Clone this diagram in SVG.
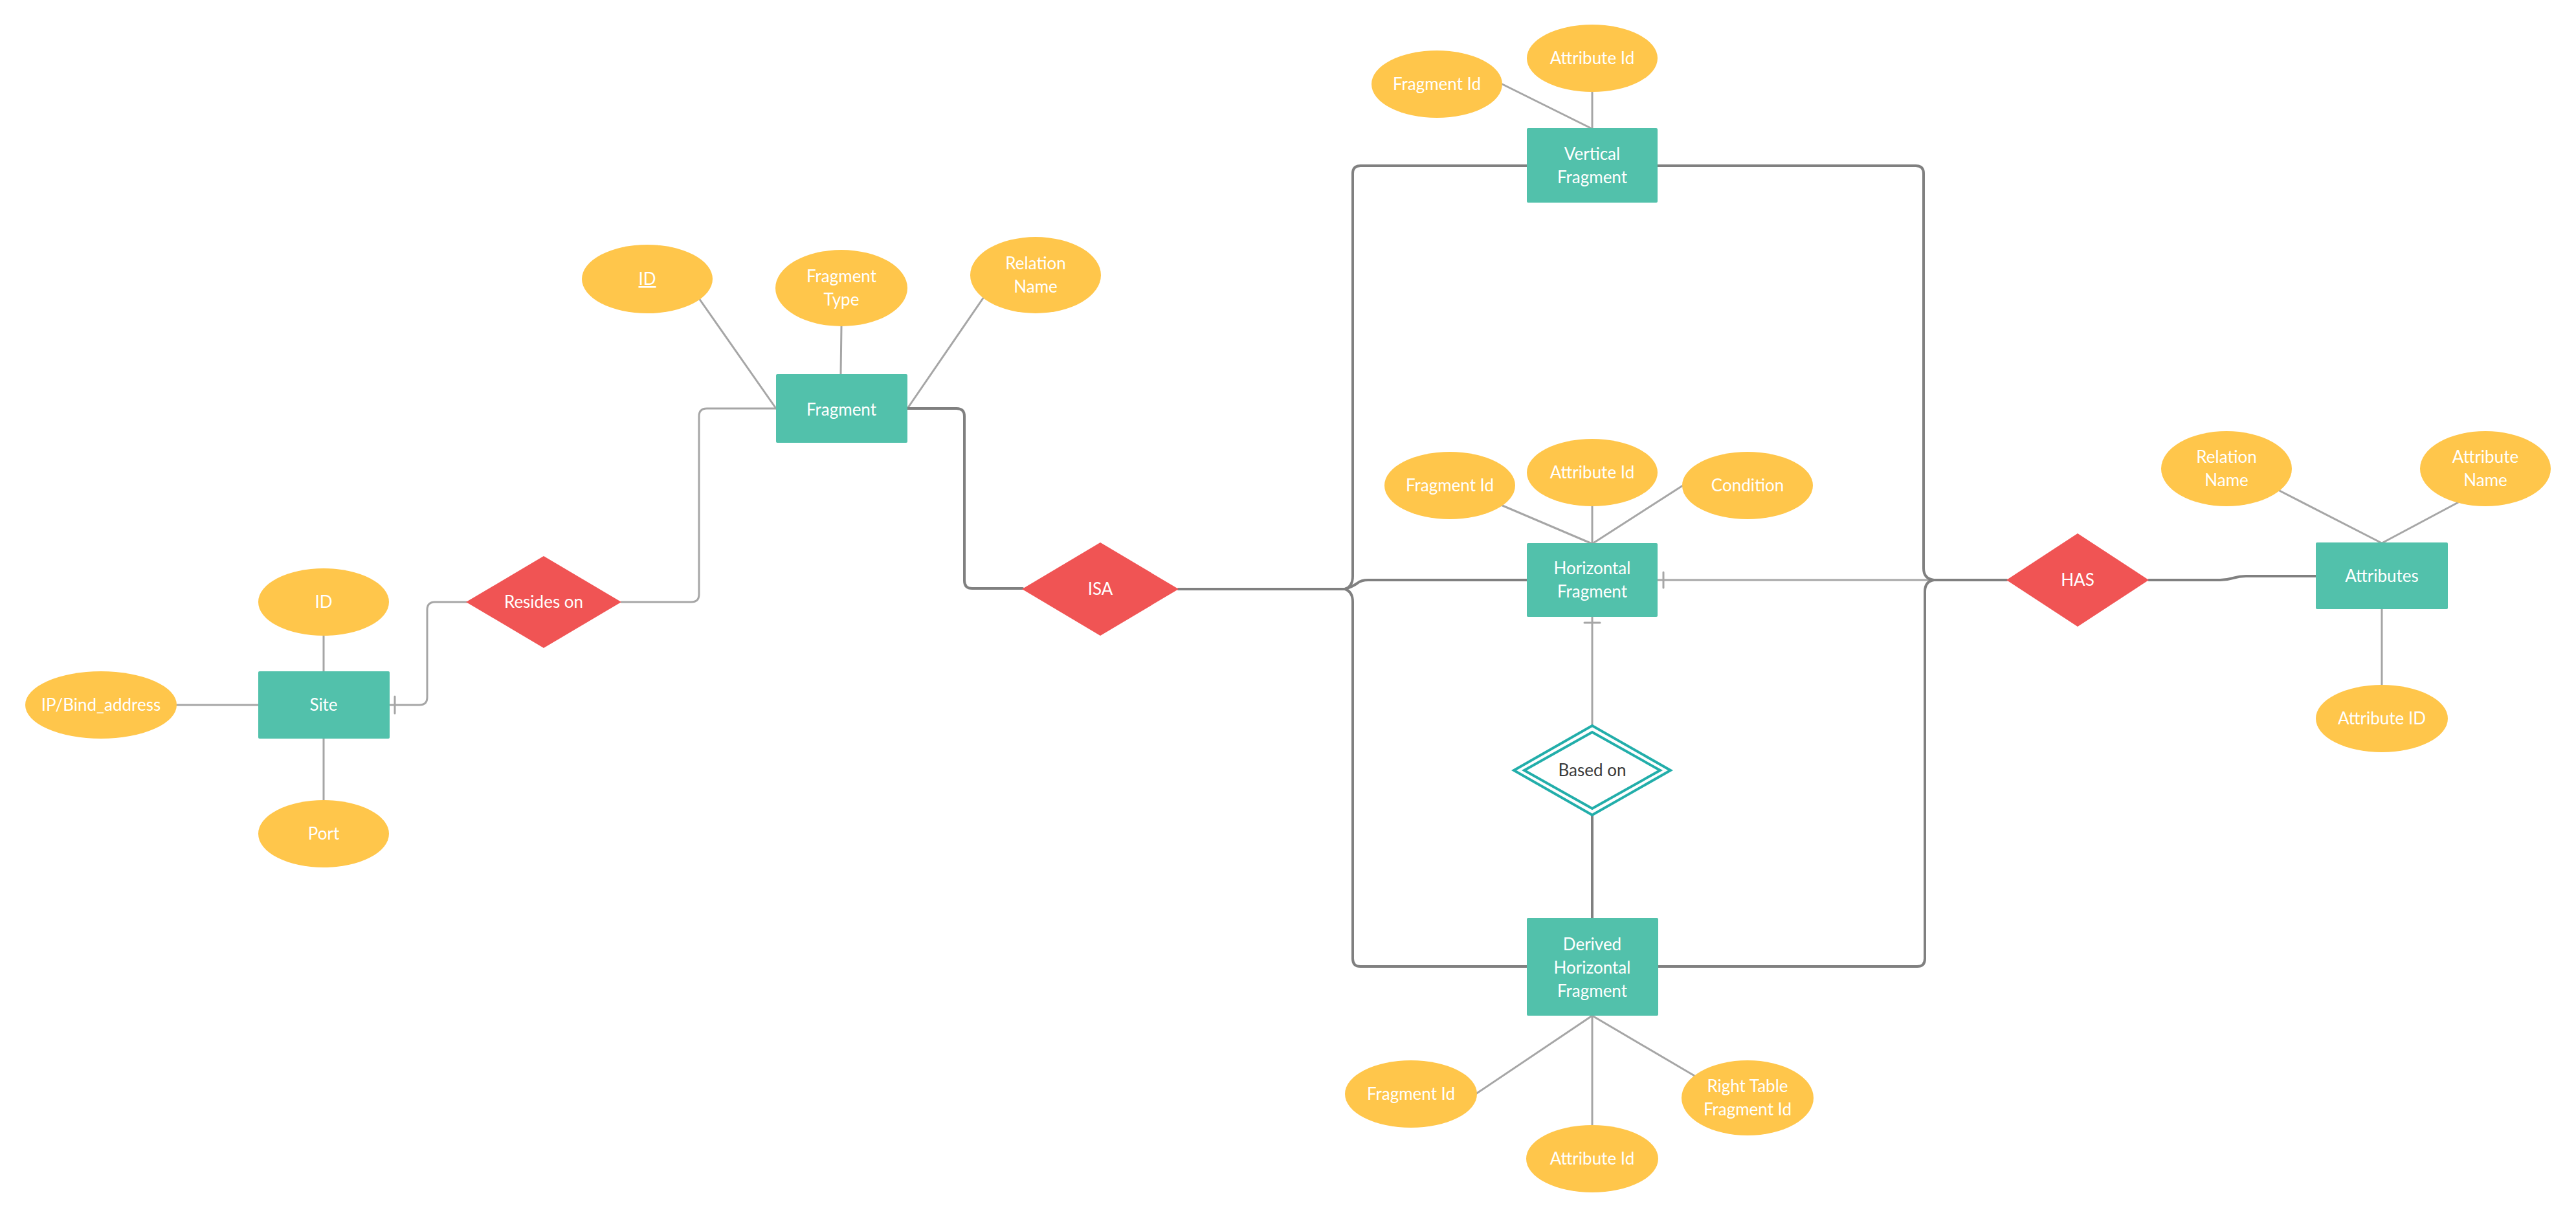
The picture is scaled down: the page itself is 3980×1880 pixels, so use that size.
<svg xmlns="http://www.w3.org/2000/svg" width="3980" height="1880" viewBox="0 0 3980 1880">
  <style>
    .ent { fill: #52c1ab; }
    .att { fill: #ffc64b; }
    .rel { fill: #f05454; }
    .weak { fill: #ffffff; stroke: #22aeaa; stroke-width: 4; }
    .lt { fill: none; stroke: #a6a6a6; stroke-width: 3; stroke-linecap: round; stroke-linejoin: round; }
    .dk { fill: none; stroke: #808080; stroke-width: 4; stroke-linecap: round; stroke-linejoin: round; }
    text { font-family: Lato, "Open Sans", "Liberation Sans", sans-serif; font-size: 26px; fill: #ffffff; text-anchor: middle; }
    text.dark { fill: #3a3a3a; }
  </style>

  <rect width="3980" height="1880" fill="#ffffff"/>

  <!-- connectors -->
  <g id="connectors">
    <!-- Site -->
    <path class="lt" d="M500 982 V1037"/>
    <path class="lt" d="M273 1089 H399"/>
    <path class="lt" d="M500 1141 V1236"/>
    <path class="lt" d="M601 1089 H648 Q660 1089 660 1077 V942 Q660 930 672 930 H721"/>
    <path class="lt" d="M610 1076 V1102"/>

    <!-- Fragment -->
    <path class="lt" d="M1080 461 L1199 631"/>
    <path class="lt" d="M1300 504 L1299 578"/>
    <path class="lt" d="M1520 459 L1402 631"/>
    <path class="lt" d="M960 930 H1068 Q1080 930 1080 918 V643 Q1080 631 1092 631 H1199"/>
    <path class="dk" d="M1402 631 H1478 Q1490 631 1490 643 V897 Q1490 909 1502 909 H1580"/>

    <!-- ISA bus to the three fragment kinds -->
    <path class="dk" d="M1821 910 H2078 Q2090 906 2090 890 V268 Q2090 256 2102 256 H2359"/>
    <path class="dk" d="M1821 910 H2078 Q2090 906 2097 901 Q2103 896 2114 896 H2359"/>
    <path class="dk" d="M1821 910 H2078 Q2090 914 2090 930 V1481 Q2090 1493 2102 1493 H2359"/>

    <!-- Vertical Fragment attributes -->
    <path class="lt" d="M2321 130 L2460 199"/>
    <path class="lt" d="M2460 142 V199"/>

    <!-- Horizontal Fragment attributes -->
    <path class="lt" d="M2319 780 L2460 840"/>
    <path class="lt" d="M2460 782 V840"/>
    <path class="lt" d="M2600 750 L2460 840"/>

    <!-- Based on -->
    <path class="lt" d="M2460 953 V1121"/>
    <path class="lt" d="M2448 962 H2472"/>
    <path class="dk" d="M2460 1259 V1418"/>

    <!-- Derived Horizontal Fragment attributes -->
    <path class="lt" d="M2460 1569 L2280 1690"/>
    <path class="lt" d="M2460 1569 V1738"/>
    <path class="lt" d="M2460 1569 L2620 1663"/>

    <!-- HAS bus -->
    <path class="lt" d="M3100 896 H2561"/>
    <path class="lt" d="M2570 884 V908"/>
    <path class="dk" d="M2561 256 H2960 Q2972 256 2972 268 V878 Q2972 894 2988 896 H3100"/>
    <path class="dk" d="M2562 1493 H2962 Q2974 1493 2974 1481 V914 Q2974 898 2988 896 H3100"/>
    <path class="dk" d="M3320 896 H3430 Q3440 896 3450 893 Q3460 890 3470 890 H3578"/>

    <!-- Attributes -->
    <path class="lt" d="M3520 757 L3680 839"/>
    <path class="lt" d="M3800 775 L3680 839"/>
    <path class="lt" d="M3680 941 V1058"/>
  </g>

  <!-- Site -->
  <g id="site">
    <rect class="ent" x="399" y="1037" width="203" height="104" rx="2"/>
    <text x="500" y="1098">Site</text>
  </g>
  <g id="site-id">
    <ellipse class="att" cx="500" cy="930" rx="101" ry="52"/>
    <text x="500" y="939">ID</text>
  </g>
  <g id="site-ip">
    <ellipse class="att" cx="156" cy="1089" rx="117" ry="52"/>
    <text x="156" y="1098">IP/Bind_address</text>
  </g>
  <g id="site-port">
    <ellipse class="att" cx="500" cy="1288" rx="101" ry="52"/>
    <text x="500" y="1297">Port</text>
  </g>

  <!-- Resides on -->
  <g id="resides-on">
    <polygon class="rel" points="720,930 840,859 960,930 840,1001"/>
    <text x="840" y="939">Resides on</text>
  </g>

  <!-- Fragment -->
  <g id="fragment">
    <rect class="ent" x="1199" y="578" width="203" height="106" rx="2"/>
    <text x="1300" y="642">Fragment</text>
  </g>
  <g id="fragment-id">
    <ellipse class="att" cx="1000" cy="431" rx="101" ry="53"/>
    <text x="1000" y="440" text-decoration="underline">ID</text>
  </g>
  <g id="fragment-type">
    <ellipse class="att" cx="1300" cy="445" rx="102" ry="59"/>
    <text x="1300" y="436">Fragment</text>
    <text x="1300" y="472">Type</text>
  </g>
  <g id="fragment-relation-name">
    <ellipse class="att" cx="1600" cy="425" rx="101" ry="59"/>
    <text x="1600" y="416">Relation</text>
    <text x="1600" y="452">Name</text>
  </g>

  <!-- ISA -->
  <g id="isa">
    <polygon class="rel" points="1579,910 1700,838 1821,910 1700,982"/>
    <text x="1700" y="919">ISA</text>
  </g>

  <!-- Vertical Fragment -->
  <g id="vertical-fragment">
    <rect class="ent" x="2359" y="198" width="202" height="115" rx="2"/>
    <text x="2460" y="247">Vertical</text>
    <text x="2460" y="283">Fragment</text>
  </g>
  <g id="vf-fragment-id">
    <ellipse class="att" cx="2220" cy="130" rx="101" ry="52"/>
    <text x="2220" y="139">Fragment Id</text>
  </g>
  <g id="vf-attribute-id">
    <ellipse class="att" cx="2460" cy="90" rx="101" ry="52"/>
    <text x="2460" y="99">Attribute Id</text>
  </g>

  <!-- Horizontal Fragment -->
  <g id="horizontal-fragment">
    <rect class="ent" x="2359" y="839" width="202" height="114" rx="2"/>
    <text x="2460" y="887">Horizontal</text>
    <text x="2460" y="923">Fragment</text>
  </g>
  <g id="hf-fragment-id">
    <ellipse class="att" cx="2240" cy="750" rx="101" ry="52"/>
    <text x="2240" y="759">Fragment Id</text>
  </g>
  <g id="hf-attribute-id">
    <ellipse class="att" cx="2460" cy="730" rx="101" ry="52"/>
    <text x="2460" y="739">Attribute Id</text>
  </g>
  <g id="hf-condition">
    <ellipse class="att" cx="2700" cy="750" rx="101" ry="52"/>
    <text x="2700" y="759">Condition</text>
  </g>

  <!-- Based on (identifying relationship) -->
  <g id="based-on">
    <polygon class="weak" points="2339,1190 2460,1121 2581,1190 2460,1259"/>
    <polygon class="weak" points="2355,1190 2460,1131 2565,1190 2460,1249"/>
    <text class="dark" x="2460" y="1199">Based on</text>
  </g>

  <!-- Derived Horizontal Fragment -->
  <g id="derived-horizontal-fragment">
    <rect class="ent" x="2359" y="1418" width="203" height="151" rx="2"/>
    <text x="2460" y="1468">Derived</text>
    <text x="2460" y="1504">Horizontal</text>
    <text x="2460" y="1540">Fragment</text>
  </g>
  <g id="dhf-fragment-id">
    <ellipse class="att" cx="2180" cy="1690" rx="102" ry="52"/>
    <text x="2180" y="1699">Fragment Id</text>
  </g>
  <g id="dhf-attribute-id">
    <ellipse class="att" cx="2460" cy="1790" rx="102" ry="52"/>
    <text x="2460" y="1799">Attribute Id</text>
  </g>
  <g id="dhf-right-table-fragment-id">
    <ellipse class="att" cx="2700" cy="1696" rx="102" ry="58"/>
    <text x="2700" y="1687">Right Table</text>
    <text x="2700" y="1723">Fragment Id</text>
  </g>

  <!-- HAS -->
  <g id="has">
    <polygon class="rel" points="3100,896 3210,824 3320,896 3210,968"/>
    <text x="3210" y="905">HAS</text>
  </g>

  <!-- Attributes -->
  <g id="attributes">
    <rect class="ent" x="3578" y="838" width="204" height="103" rx="2"/>
    <text x="3680" y="899">Attributes</text>
  </g>
  <g id="attr-relation-name">
    <ellipse class="att" cx="3440" cy="724" rx="101" ry="58"/>
    <text x="3440" y="715">Relation</text>
    <text x="3440" y="751">Name</text>
  </g>
  <g id="attr-attribute-name">
    <ellipse class="att" cx="3840" cy="724" rx="101" ry="58"/>
    <text x="3840" y="715">Attribute</text>
    <text x="3840" y="751">Name</text>
  </g>
  <g id="attr-attribute-id">
    <ellipse class="att" cx="3680" cy="1110" rx="102" ry="52"/>
    <text x="3680" y="1119">Attribute ID</text>
  </g>
</svg>
